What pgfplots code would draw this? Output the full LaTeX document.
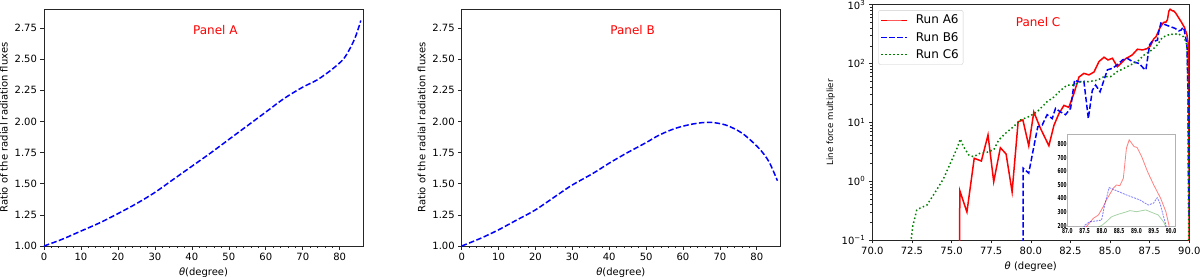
\documentclass[border=0pt]{standalone}
\usepackage{fontspec}
\setmainfont{DejaVu Sans}
\usepackage{pgfplots}
\pgfplotsset{compat=1.18}
\pgfplotsset{
  longline/.style={legend image code/.code={%
    \draw[mark repeat=2,mark phase=2,##1, line width=1pt] plot coordinates {(0pt,0pt) (13pt,0pt) (26pt,0pt)};}},
}
\begin{document}
\begin{tikzpicture}
\pgfplotsset{
  base/.style={
    scale only axis,
    axis line style={black!85, line width=0.7pt},
    tick style={black!85, line width=0.6pt},
    tick align=outside,
    major tick length=3.5pt,
    minor tick length=2pt,
    xtick pos=left, ytick pos=left,
    tick label style={font=\fontsize{10}{12}\selectfont},
    label style={font=\fontsize{10}{12}\selectfont},
    /pgf/number format/assume math mode=true,
    clip=true,
  },
  ratio/.style={
    base,
    width=319pt, height=236.7pt,
    xmin=0, xmax=86.3, ymin=1, ymax=2.9,
    xtick={0,10,...,80}, minor x tick num=4,
    ytick={1,1.25,1.5,1.75,2,2.25,2.5,2.75},
    yticklabel style={/pgf/number format/.cd, fixed, fixed zerofill, precision=2},
    xlabel={\textit{θ}(degree)},
    ylabel={Ratio of the radial radiation fluxes},
  },
  dashblue/.style={blue, line width=1.5pt, dash pattern=on 5.5pt off 2.4pt, smooth},
}

% ---------------- Panel A ----------------
\begin{axis}[ratio, at={(44pt,30pt)}, anchor=south west]
\addplot[dashblue] coordinates {
(0,1.00) (5,1.055) (10,1.12) (15,1.185) (20,1.26) (25,1.34) (30,1.43) (35,1.535)
(40,1.64) (45,1.745) (50,1.855) (55,1.965) (60,2.075) (65,2.185) (70,2.275)
(74,2.335) (78,2.42) (81,2.50) (82.8,2.587) (84,2.66) (84.6,2.707) (85.2,2.76) (85.7,2.81)};
\node[red, font=\fontsize{12}{14}\selectfont] at (rel axis cs:0.537,0.9125) {Panel A};
\end{axis}

% ---------------- Panel B ----------------
\begin{axis}[ratio, at={(461.7pt,30pt)}, anchor=south west, width=318.3pt]
\addplot[dashblue] coordinates {
(0,1.00) (5,1.06) (10,1.13) (15,1.21) (20,1.29) (26.6,1.423) (30,1.49) (35.6,1.583)
(40,1.665) (44.6,1.744) (50,1.83) (53.6,1.891) (58,1.945) (62.6,1.979) (67.1,1.993)
(71.6,1.971) (76.1,1.904) (80.6,1.784) (83.3,1.677) (85.6,1.524)};
\node[red, font=\fontsize{12}{14}\selectfont] at (rel axis cs:0.537,0.9125) {Panel B};
\end{axis}

% ---------------- Panel C ----------------
\pgfplotstableread{
x y
75.5 0.01
75.52 0.69
75.97 0.30
76.43 2.45
76.88 2.2
77.3 6.1
77.66 0.98
78.08 3.7
78.44 2.9
78.82 0.66
79.2 10.2
79.5 11
79.87 4.0
80.19 15
80.61 7.9
81.14 4.0
81.46 8.9
81.77 14
82.09 19.4
82.4 18
82.72 31
83.04 59
83.35 68
83.67 64
83.99 72
84.3 108
84.62 128
84.87 115
85.15 123
85.46 88
85.68 100
86.0 122
86.2 130
86.4 140
86.73 175
87.05 170
87.36 180
87.55 200
87.75 261
87.9 286
88.04 347
88.13 396
88.33 482
88.42 506
88.52 501
88.62 555
88.71 776
88.79 837
88.86 813
88.93 788
89.02 781
89.15 715
89.32 604
89.5 506
89.7 408
89.85 310
89.94 212
89.97 30
90.0 0.01
}\runA
\pgfplotstableread{
x y
79.51 0.01
79.52 1.66
79.87 1.37
80.19 3.85
80.44 8.4
80.72 9
81.03 13.5
81.35 11.6
81.56 17.3
81.88 15
82.19 13.5
82.51 17.3
82.76 52
83.04 49
83.35 50
83.63 11.6
83.88 35
84.09 43
84.37 33
84.58 49
84.83 78
85.15 83
85.46 95
85.78 115
86.1 122
86.41 108
86.84 100
87.11 83
87.26 78
87.4 140
87.5 210
87.65 237
87.84 242
87.99 249
88.08 359
88.21 487
88.33 474
88.71 433
89.1 396
89.34 359
89.49 372
89.6 413
89.68 372
89.85 212
89.92 30
89.95 1.0
90.0 0.23
}\runB
\pgfplotstableread{
x y
72.43 0.09
72.55 0.17
72.8 0.32
73.02 0.35
73.44 0.39
73.97 0.65
74.49 1.1
75.02 2.3
75.34 3.6
75.55 5.2
75.76 3.85
76.08 2.8
76.39 2.6
76.81 3.0
77.24 3.1
77.66 3.4
77.97 5.0
78.4 6.5
78.92 8.5
79.35 11
79.87 12.5
80.4 15.1
81.03 22.5
81.46 27
81.88 35
82.3 43
82.72 43
83.14 49
83.57 49
84.2 52
84.62 60
85.04 60
85.46 73
85.89 83
86.3 95
86.73 108
87.15 140
87.57 165
87.8 185
88.0 210
88.13 237
88.28 273
88.47 291
88.66 305
88.81 318
89.0 310
89.27 323
89.44 305
89.63 286
89.78 237
89.85 200
89.9 60
89.96 0.1
}\runC

\begin{axis}[base, at={(872.3pt,36pt)}, anchor=south west,
  width=317pt, height=235.3pt,
  xmin=70, xmax=90, ymode=log, ymin=0.1, ymax=1000,
  xtick={70,72.5,...,90},
  xticklabel style={/pgf/number format/.cd, fixed, fixed zerofill, precision=1},
  ytick={0.1,1,10,100,1000},
  yticklabels={10\textsuperscript{−1},10\textsuperscript{0},10\textsuperscript{1},10\textsuperscript{2},10\textsuperscript{3}},
  minor ytick={0.2,0.3,0.4,0.5,0.6,0.7,0.8,0.9,2,3,4,5,6,7,8,9,20,30,40,50,60,70,80,90,200,300,400,500,600,700,800,900},
  xlabel={\textit{θ} (degree)},
  ylabel={Line force multiplier},
  ylabel style={font=\fontsize{8.6}{10}\selectfont},
  legend style={at={(rel axis cs:0.019,0.977)}, anchor=north west, draw=black!20,
    rounded corners=2pt, font=\fontsize{12}{14}\selectfont,
    inner xsep=2.4pt, inner ysep=2.5pt, row sep=3pt,
    nodes={inner sep=2pt},
    /tikz/every odd column/.append style={column sep=6pt}},
  legend cell align=left,
  longline,
]
\addplot[red, line width=1.5pt] table[x=x,y=y] {\runA};
\addlegendentry{Run A6}
\addplot[blue, line width=1.5pt, dash pattern=on 5.5pt off 2.4pt] table[x=x,y=y] {\runB};
\addlegendentry{Run B6}
\addplot[black!50!green, line width=1.5pt, dash pattern=on 1.5pt off 2.5pt] table[x=x,y=y] {\runC};
\addlegendentry{Run C6}
\node[red, font=\fontsize{12}{14}\selectfont] at (rel axis cs:0.523,0.928) {Panel C};
\end{axis}

% ---------------- Inset ----------------
\begin{axis}[scale only axis, at={(1067.3pt,49.3pt)}, anchor=south west,
  width=108.4pt, height=92.7pt,
  axis background/.style={fill=white},
  axis line style={black!30, line width=0.6pt},
  major tick length=0pt,
  xtick pos=left, ytick pos=left,
  xmin=87, xmax=90.135, ymin=200, ymax=880,
  xtick={87,87.5,...,90}, ytick={200,300,...,800},
  tick label style={font=\fontsize{6.8}{7}\selectfont\bfseries, xscale=0.63, inner sep=0.8pt},
  xticklabel style={yshift=-1pt},
  yticklabel style={yshift=1pt},
  /pgf/number format/assume math mode=true,
  xticklabel style={/pgf/number format/.cd, fixed, fixed zerofill, precision=1},
]
\addplot[red, opacity=0.5, line width=0.8pt] table[x=x,y=y] {\runA};
\addplot[blue, opacity=0.5, line width=0.8pt, dash pattern=on 2pt off 1pt] table[x=x,y=y] {\runB};
\addplot[black!50!green, opacity=0.35, line width=0.8pt] table[x=x,y=y] {\runC};
\end{axis}

\pgfresetboundingbox
\useasboundingbox (0pt,0pt) rectangle (1200pt,276pt);
\end{tikzpicture}
\end{document}
